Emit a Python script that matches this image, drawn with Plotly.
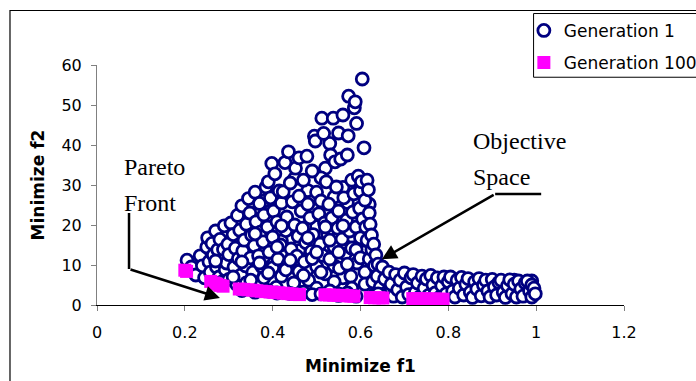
import plotly.graph_objects as go

# ---- Generation 1 population (f1, f2), grouped in bands of f1 ----
fill_f1 = [0.26, 0.28, 0.30, 0.32, 0.34, 0.36, 0.38, 0.40, 0.42, 0.44,
           0.46, 0.48, 0.50, 0.52, 0.54, 0.56, 0.58, 0.60, 0.62,
           0.30, 0.34, 0.38, 0.42, 0.46, 0.50, 0.54, 0.58,
           0.40, 0.44, 0.48, 0.52, 0.56, 0.45, 0.49, 0.53, 0.57, 0.47, 0.51, 0.55]
fill_f2 = [8.5, 15.5, 9.0, 16.8, 12.8, 9.2, 12.0, 6.2, 13.2, 16.6,
           11.4, 9.0, 17.8, 14.0, 9.8, 6.8, 11.6, 19.8, 25.2,
           13.0, 18.6, 26.0, 16.0, 13.6, 19.6, 27.0, 17.2,
           21.6, 19.4, 28.6, 34.2, 29.4, 31.6, 24.6, 40.4, 25.6, 6.0, 31.8, 43.0]

band_a_f1 = [0.205, 0.215, 0.225, 0.235, 0.240, 0.245, 0.250, 0.252, 0.255, 0.258,
             0.262, 0.265, 0.270, 0.272, 0.275, 0.278, 0.280, 0.283, 0.285, 0.288,
             0.290, 0.292, 0.295, 0.298, 0.300, 0.300, 0.270]
band_a_f2 = [11.2, 9.5, 7.5, 12.3, 9.8, 6.8, 14.5, 16.8, 10.8, 8.2,
             15.4, 12.5, 18.5, 9.5, 13.8, 7.0, 16.4, 11.2, 5.8, 13.9,
             19.8, 8.8, 10.5, 15.2, 6.4, 12.6, 11.0]

band_b_f1 = [0.305, 0.310, 0.312, 0.315, 0.318, 0.320, 0.322, 0.325, 0.328, 0.330,
             0.332, 0.335, 0.338, 0.340, 0.340, 0.345, 0.348, 0.350, 0.352, 0.355,
             0.358, 0.360, 0.362, 0.365, 0.368, 0.370, 0.372, 0.375, 0.378, 0.380,
             0.380, 0.310, 0.330, 0.350, 0.360, 0.370, 0.330, 0.360]
band_b_f2 = [20.5, 17.6, 9.5, 14.2, 5.2, 22.4, 11.6, 18.7, 7.5, 24.8,
             13.5, 16.2, 9.8, 20.2, 5.5, 26.6, 23.0, 11.8, 17.5, 8.2,
             14.8, 28.2, 20.8, 4.8, 12.3, 25.4, 18.2, 9.6, 15.8, 22.5,
             6.8, 7.0, 10.8, 6.2, 17.8, 10.5, 3.6, 3.2]

band_c_f1 = [0.385, 0.388, 0.390, 0.392, 0.395, 0.398, 0.400, 0.400, 0.402, 0.405,
             0.408, 0.410, 0.412, 0.415, 0.418, 0.420, 0.420, 0.424, 0.428, 0.430,
             0.432, 0.435, 0.436, 0.440, 0.442, 0.445, 0.448, 0.450, 0.452, 0.455,
             0.458, 0.460, 0.460, 0.460, 0.390, 0.410, 0.420, 0.430, 0.440, 0.390,
             0.410, 0.440]
band_c_f2 = [29.5, 19.5, 30.8, 13.2, 26.8, 35.4, 17.0, 9.3, 23.5, 32.8,
             4.4, 20.8, 11.5, 28.5, 15.0, 7.2, 25.5, 28.3, 35.6, 18.6,
             22.0, 10.2, 38.3, 30.5, 14.0, 25.8, 5.5, 20.0, 34.2, 12.2,
             17.2, 36.8, 27.2, 8.4, 8.0, 14.5, 19.8, 8.8, 11.2, 3.5,
             3.0, 2.9]

band_d_f1 = [0.465, 0.468, 0.470, 0.472, 0.475, 0.478, 0.480, 0.482, 0.485, 0.488,
             0.490, 0.492, 0.495, 0.497, 0.500, 0.500, 0.500, 0.505, 0.508, 0.510,
             0.512, 0.514, 0.516, 0.518, 0.520, 0.522, 0.525, 0.528, 0.530, 0.532,
             0.535, 0.538, 0.540, 0.540, 0.470, 0.490, 0.510, 0.480, 0.520, 0.500,
             0.470, 0.490, 0.510, 0.530]
band_d_f2 = [23.5, 19.2, 31.2, 10.8, 15.6, 37.2, 25.2, 6.2, 21.8, 13.4,
             33.5, 17.6, 42.2, 41.0, 28.2, 9.6, 4.2, 22.8, 15.2, 26.0,
             46.7, 12.4, 42.9, 20.5, 7.8, 30.8, 17.8, 25.2, 11.5, 37.5,
             21.8, 46.7, 14.5, 5.8, 7.4, 11.6, 8.2, 16.8, 19.5, 13.2,
             3.2, 2.6, 2.8, 3.5]

band_e_f1 = [0.542, 0.545, 0.548, 0.550, 0.552, 0.555, 0.558, 0.560, 0.562, 0.565,
             0.568, 0.570, 0.572, 0.573, 0.575, 0.578, 0.580, 0.580, 0.582, 0.585,
             0.586, 0.588, 0.590, 0.591, 0.592, 0.595, 0.598, 0.600, 0.600, 0.602,
             0.604, 0.605, 0.607, 0.608, 0.610, 0.610, 0.612, 0.615, 0.615, 0.550,
             0.570, 0.590, 0.530, 0.550, 0.560, 0.580, 0.600, 0.610, 0.550, 0.570,
             0.590]
band_e_f2 = [35.8, 29.5, 19.2, 23.5, 9.2, 36.5, 16.5, 47.5, 26.8, 12.8,
             21.2, 37.5, 42.3, 52.2, 18.5, 7.2, 31.2, 14.2, 23.2, 27.8,
             49.3, 50.8, 19.5, 45.4, 10.5, 32.2, 24.2, 16.8, 28.5, 30.8,
             56.5, 21.5, 13.2, 39.3, 26.2, 8.2, 19.5, 31.2, 16.2, 13.2,
             10.2, 13.8, 16.2, 2.8, 19.8, 4.2, 11.8, 5.2, 2.4, 3.0,
             2.2]

band_f_f1 = [0.618, 0.620, 0.620, 0.622, 0.625, 0.626, 0.628, 0.630, 0.632, 0.635,
             0.638, 0.640, 0.645, 0.650, 0.655, 0.660, 0.630, 0.650, 0.640]
band_f_f2 = [28.8, 23.0, 11.5, 20.2, 17.5, 13.8, 5.8, 15.2, 9.8, 12.5,
             7.2, 10.2, 4.5, 9.5, 6.5, 3.2, 2.4, 2.2, 2.8]

tail_f1 = [0.665, 0.670, 0.675, 0.680, 0.685, 0.690, 0.695, 0.700, 0.705, 0.710,
           0.715, 0.720, 0.725, 0.730, 0.735, 0.740, 0.745, 0.750, 0.755, 0.760,
           0.765, 0.770, 0.775, 0.780, 0.785, 0.790, 0.795, 0.800, 0.805, 0.810,
           0.815, 0.820, 0.825, 0.830, 0.835, 0.840, 0.845, 0.850, 0.855, 0.860,
           0.865, 0.870, 0.875, 0.880, 0.885, 0.890, 0.895, 0.900, 0.905, 0.910,
           0.915, 0.920, 0.925, 0.930, 0.935, 0.940, 0.945, 0.950, 0.955, 0.960,
           0.965, 0.970, 0.975, 0.980, 0.985, 0.990, 0.990, 0.995, 0.998]
tail_f2 = [8.2, 5.2, 2.2, 7.6, 3.8, 6.2, 2.0, 8.0, 4.5, 2.6,
           6.8, 7.6, 3.2, 5.5, 2.0, 7.2, 4.2, 6.5, 2.4, 7.4,
           5.0, 3.0, 6.8, 1.9, 4.8, 7.0, 2.8, 5.8, 7.0, 3.5,
           2.0, 6.2, 4.2, 6.9, 2.5, 5.2, 6.6, 3.2, 1.9, 5.8,
           4.0, 6.6, 2.3, 5.0, 6.2, 3.5, 2.0, 6.4, 4.5, 2.5,
           5.6, 6.2, 3.2, 1.9, 4.8, 6.3, 2.8, 5.2, 2.0, 6.0,
           4.0, 2.2, 5.5, 6.0, 3.5, 2.0, 5.0, 4.2, 2.8]

tail2_f1 = [0.67, 0.68, 0.69, 0.70, 0.71, 0.72, 0.73, 0.74, 0.75, 0.76,
            0.77, 0.78, 0.79, 0.80, 0.81, 0.82, 0.83, 0.84, 0.85, 0.86,
            0.87, 0.88, 0.89, 0.90, 0.91, 0.92, 0.93, 0.94, 0.95, 0.96,
            0.97, 0.98, 0.99]
tail2_f2 = [4.0, 6.0, 3.4, 5.2, 7.0, 4.6, 6.4, 3.0, 4.8, 5.8,
            6.6, 3.8, 5.4, 4.4, 6.4, 2.8, 5.0, 3.6, 5.6, 2.6,
            4.6, 3.8, 5.4, 2.9, 4.0, 5.0, 3.0, 4.2, 6.2, 2.8,
            4.6, 3.0, 6.0]

# ---- Generation 100 (non-dominated front) ----
gen100_f1 = [0.200, 0.204,
             0.259, 0.266, 0.273, 0.280, 0.287,
             0.324, 0.334, 0.344, 0.354, 0.364, 0.374, 0.384, 0.394, 0.404,
             0.414, 0.424, 0.434, 0.444, 0.454, 0.461,
             0.519, 0.529, 0.539, 0.549, 0.559, 0.569, 0.578, 0.585,
             0.622, 0.632, 0.642, 0.651,
             0.719, 0.729, 0.739, 0.749, 0.759, 0.769, 0.779, 0.788]
gen100_f2 = [8.7, 8.4,
             5.9, 5.5, 5.2, 4.9, 4.7,
             4.0, 3.9, 3.8, 3.7, 3.55, 3.45, 3.35, 3.25, 3.15,
             3.05, 2.95, 2.85, 2.75, 2.65, 2.6,
             2.55, 2.5, 2.45, 2.4, 2.35, 2.3, 2.25, 2.2,
             1.85, 1.8, 1.8, 1.75,
             1.6, 1.6, 1.55, 1.55, 1.5, 1.5, 1.45, 1.45]

x_ticks = [0, 0.2, 0.4, 0.6, 0.8, 1.0, 1.2]
x_tick_labels = ["0", "0.2", "0.4", "0.6", "0.8", "1", "1.2"]
y_ticks = [0, 10, 20, 30, 40, 50, 60]

bands_f1 = [fill_f1, band_a_f1, band_b_f1, band_c_f1, band_d_f1, band_e_f1,
            band_f_f1, tail2_f1, tail_f1]
bands_f2 = [fill_f2, band_a_f2, band_b_f2, band_c_f2, band_d_f2, band_e_f2,
            band_f_f2, tail2_f2, tail_f2]
gen1_f1, gen1_f2 = [], []
for bx, by in zip(bands_f1, bands_f2):
    assert len(bx) == len(by)
    gen1_f1 += bx
    gen1_f2 += by
assert len(gen100_f1) == len(gen100_f2)

SANS = "DejaVu Sans"
SERIF = "Liberation Serif, Times New Roman, serif"

fig = go.Figure()
fig.add_trace(go.Scatter(
    x=gen1_f1, y=gen1_f2, mode="markers", name="Generation 1",
    legendgroup="g1",
    marker=dict(symbol="circle", size=12, color="white",
                line=dict(color="#000080", width=2.8)),
    cliponaxis=False,
))
fig.add_trace(go.Scatter(
    x=gen100_f1, y=gen100_f2, mode="markers", name="Generation 100",
    legendgroup="g2",
    marker=dict(symbol="square", size=13, color="#FF00FF", line=dict(width=0)),
    cliponaxis=False,
))

# Pointer lines: a straight leg drawn as a path, the arrowed leg as an annotation
fig.add_shape(type="path", xref="x", yref="y",
              path="M 0.0729,23 L 0.0729,9",
              line=dict(color="black", width=2.5))
fig.add_shape(type="path", xref="x", yref="y",
              path="M 1.0114,27.75 L 0.9066,27.75",
              line=dict(color="black", width=2.5))
arrow_style = dict(showarrow=True, arrowhead=2, arrowsize=1.2, arrowwidth=2.5,
                   arrowcolor="black", standoff=0, startstandoff=0,
                   xref="x", yref="y", axref="x", ayref="y", text="")
fig.add_annotation(x=0.280, y=1.75, ax=0.0729, ay=9, **arrow_style)
fig.add_annotation(x=0.6485, y=11.43, ax=0.9066, ay=27.75, **arrow_style)

label_font = dict(family=SERIF, size=24, color="black")
for txt, lx, ly in [("Pareto", 0.057, 34.5), ("Front", 0.057, 25.4),
                    ("Objective", 0.851, 41.0), ("Space", 0.851, 32.1)]:
    fig.add_annotation(x=lx, y=ly, xref="x", yref="y", text=txt, showarrow=False,
                       xanchor="left", yanchor="middle", font=label_font)

# Chart frame and legend box
fig.add_shape(type="rect", xref="paper", yref="paper",
              x0=-0.1651, x1=2.0, y0=-1.0, y1=1.227,
              line=dict(color="black", width=1.2), fillcolor="rgba(0,0,0,0)")
fig.add_shape(type="rect", xref="paper", yref="paper",
              x0=0.8284, x1=2.0, y0=0.949, y1=1.2145,
              line=dict(color="black", width=1), fillcolor="rgba(0,0,0,0)")

fig.update_layout(
    width=696, height=381,
    margin=dict(l=97, r=72, t=65, b=76, autoexpand=False),
    paper_bgcolor="white", plot_bgcolor="white",
    font=dict(family=SANS, color="black"),
    showlegend=True,
    legend=dict(x=0.810, y=1.217, xanchor="left", yanchor="top",
                bgcolor="rgba(0,0,0,0)", borderwidth=0,
                font=dict(family=SANS, size=17, color="black"),
                tracegroupgap=7, traceorder="grouped"),
    xaxis=dict(range=[0, 1.2], tickvals=x_ticks, ticktext=x_tick_labels,
               ticks="outside", ticklen=5, tickcolor="#808080", tickwidth=1,
               showline=True, linecolor="black", linewidth=1,
               showgrid=False, zeroline=False,
               tickfont=dict(family=SANS, size=16, color="black"),
               ticklabelstandoff=8,
               title=dict(text="Minimize f1", standoff=18,
                          font=dict(family=SANS, size=17, color="black", weight="bold"))),
    yaxis=dict(range=[0, 60], tickvals=y_ticks,
               ticks="outside", ticklen=5, tickcolor="#808080", tickwidth=1,
               showline=True, linecolor="#808080", linewidth=1,
               showgrid=False, zeroline=False,
               tickfont=dict(family=SANS, size=16, color="black"),
               ticklabelstandoff=6,
               title=dict(text="Minimize f2", standoff=12,
                          font=dict(family=SANS, size=17, color="black", weight="bold"))),
)

fig.write_html("out.html")
